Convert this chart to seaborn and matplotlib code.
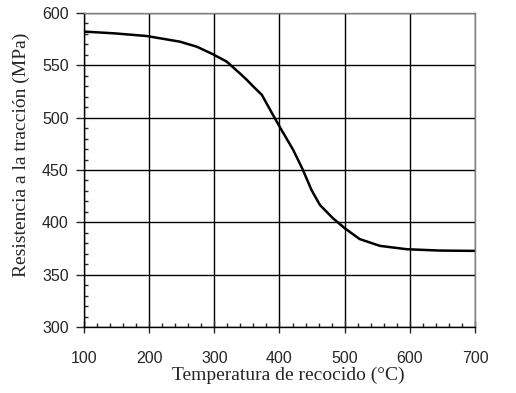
import numpy as np
import pandas as pd
import matplotlib
matplotlib.use("Agg")
import matplotlib.pyplot as plt
import seaborn as sns
from matplotlib.ticker import MultipleLocator

# Data
temperatura = [100, 145, 196, 247, 273, 298, 319, 339, 350, 360, 373, 390, 403,
               421, 436, 449, 462, 482, 500, 523, 554, 595, 646, 700]
resistencia = [582.2, 580.6, 578, 572.6, 567.8, 560.5, 553.5, 542.4, 536, 529.6,
               521.7, 502.6, 488.3, 469.2, 450, 431, 416.6, 403.9, 394.4, 384,
               377.5, 374.3, 373, 372.7]

df = pd.DataFrame({"temp": temperatura, "res": resistencia})

sns.set_style("white")

fig = plt.figure(figsize=(5.16, 3.93), dpi=100)
ax = fig.add_axes([0.1628, 0.168, 0.7577, 0.799])

sns.lineplot(data=df, x="temp", y="res", ax=ax, color="black", lw=1.8)

ax.set_xlim(100, 700)
ax.set_ylim(300, 600)
ax.xaxis.set_major_locator(MultipleLocator(100))
ax.xaxis.set_minor_locator(MultipleLocator(20))
ax.yaxis.set_major_locator(MultipleLocator(50))
ax.yaxis.set_minor_locator(MultipleLocator(10))

ax.grid(True, which="major", color="black", lw=1.0)
ax.set_axisbelow(True)

for side in ["left", "bottom"]:
    ax.spines[side].set_color("black")
    ax.spines[side].set_linewidth(1.0)
for side in ["top", "right"]:
    ax.spines[side].set_color("#808080")
    ax.spines[side].set_linewidth(1.0)

ax.tick_params(axis="x", which="major", direction="inout", length=8, width=1,
               labelsize=11.5, pad=13, bottom=True)
ax.tick_params(axis="x", which="minor", direction="in", length=3, width=1, bottom=True)
ax.tick_params(axis="y", which="major", direction="out", length=6, width=1,
               labelsize=11.5, pad=5, left=True)
ax.tick_params(axis="y", which="minor", direction="in", length=3, width=1, left=True)
for lbl in ax.get_xticklabels() + ax.get_yticklabels():
    lbl.set_family("Liberation Sans")

ax.set_xlabel("Temperatura de recocido (°C)", family="Liberation Serif", fontsize=14)
ax.set_ylabel("Resistencia a la tracción (MPa)", family="Liberation Serif", fontsize=14)
ax.xaxis.set_label_coords(0.522, -0.127)
ax.yaxis.set_label_coords(-0.138, 0.548)

fig.savefig("out.png", dpi=100)
